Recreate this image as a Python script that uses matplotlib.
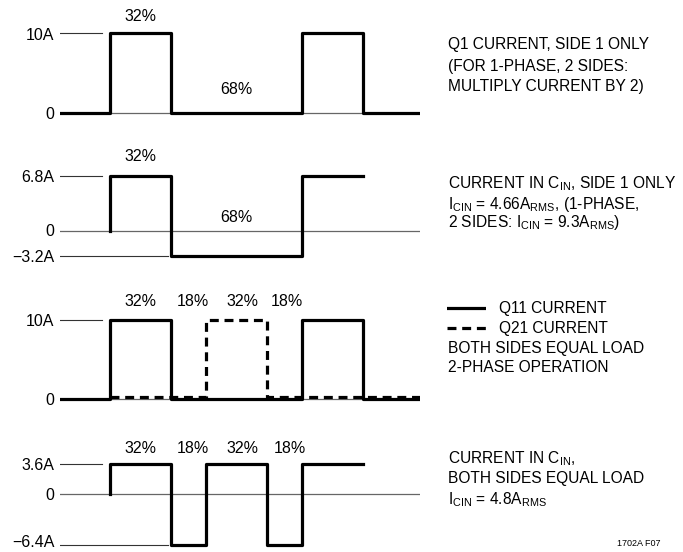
import matplotlib
matplotlib.use("Agg")
import matplotlib.pyplot as plt
from matplotlib.transforms import ScaledTranslation

plt.rcParams['font.family'] = ['Liberation Sans', 'DejaVu Sans']
plt.rcParams['mathtext.fontset'] = 'custom'
plt.rcParams['mathtext.rm'] = 'Liberation Sans'
plt.rcParams['mathtext.it'] = 'Liberation Sans'

# waveform data: time in fractions of one period, current in amps (step, 'post')
q1_t = [-0.26, 0, 0.32, 1.0, 1.32, 1.62]
q1_i = [0, 10, 0, 10, 0, 0]

cin1_t = [0, 0, 0.32, 1.0, 1.32]
cin1_i = [0, 6.8, -3.2, 6.8, 6.8]

q11_t = [-0.26, 0, 0.32, 1.0, 1.32, 1.62]
q11_i = [0, 10, 0, 10, 0, 0]
q21_t = [0, 0.5, 0.82, 1.62]
q21_i = [0.25, 10, 0.25, 0.25]

cin2_t = [0, 0, 0.32, 0.5, 0.82, 1.0, 1.32]
cin2_i = [0, 3.6, -6.4, 3.6, -6.4, 3.6, 3.6]

levels1 = [10, 0]
levels2 = [6.8, 0, -3.2]
levels3 = [10, 0]
levels4 = [3.6, 0, -6.4]
labels1 = ['10A', '0']
labels2 = ['6.8A', '0', '\u22123.2A']
labels3 = ['10A', '0']
labels4 = ['3.6A', '0', '\u22126.4A']

W, H = 683, 552
fig = plt.figure(figsize=(W / 100, H / 100), dpi=100)

LW = 2.3
FS = 11.5
FS_NOTE = 11.2
DASH = (0, (2.8, 1.8))


def panel(top, bottom, zero_px, scale, levels, labels, long_neg=False):
    ax = fig.add_axes([60 / W, 1 - bottom / H, 360 / W, (bottom - top) / H])
    ax.set_xlim(-0.26, 1.615)
    ax.set_ylim((zero_px - bottom) / scale, (zero_px - top) / scale)
    for s in ax.spines.values():
        s.set_visible(False)
    ax.set_xticks([])
    ax.set_yticks(levels, labels)
    ax.tick_params(axis='y', length=0, pad=4, labelsize=FS)
    ax.axhline(0, color='#666666', lw=0.9, zorder=1)
    for lv in levels:
        if lv == 0:
            continue
        frac = 0.30 if (lv < 0 and long_neg) else 0.117
        ax.axhline(lv, xmin=0, xmax=frac, color='#333333', lw=0.8, zorder=1)
    return ax


# panel 1
ax1 = panel(0, 130, 113.5, 8.0, levels1, labels1)
ax1.step(q1_t, q1_i, where='post', color='black', lw=LW, zorder=3)
ax1.text(0.16, 12.1, '32%', ha='center', va='center', fontsize=FS)
ax1.text(0.66, 3.0, '68%', ha='center', va='center', fontsize=FS)

# panel 2
ax2 = panel(140, 270, 230.5, 8.0, levels2, labels2, long_neg=True)
ax2.step(cin1_t, cin1_i, where='post', color='black', lw=LW, zorder=3)
ax2.text(0.16, 9.2, '32%', ha='center', va='center', fontsize=FS)
ax2.text(0.66, 1.6, '68%', ha='center', va='center', fontsize=FS)

# panel 3
ax3 = panel(280, 410, 399.0, 7.9, levels3, labels3)
ax3.step(q11_t, q11_i, where='post', color='black', lw=LW, zorder=3)
ax3.step(q21_t, q21_i, where='post', color='black', lw=LW,
         linestyle=DASH, zorder=4)
for x, s in zip([0.16, 0.43, 0.69, 0.92], ['32%', '18%', '32%', '18%']):
    ax3.text(x, 12.4, s, ha='center', va='center', fontsize=FS)

# panel 4
ax4 = panel(420, 552, 493.5, 8.07, levels4, labels4, long_neg=True)
ax4.step(cin2_t, cin2_i, where='post', color='black', lw=LW, zorder=3)
for x, s in zip([0.16, 0.43, 0.69, 0.935], ['32%', '18%', '32%', '18%']):
    ax4.text(x, 5.6, s, ha='center', va='center', fontsize=FS)
# nudge bottom label up a little so it stays inside the figure
lbl = ax4.get_yticklabels()[-1]
lbl.set_transform(lbl.get_transform() + ScaledTranslation(0, 0.04, fig.dpi_scale_trans))


# right-hand notes
def note(y_px, s, x_px=448, **kw):
    fig.text(x_px / W, 1 - y_px / H, s, ha='left', va='center', fontsize=FS_NOTE, **kw)


note(45, 'Q1 CURRENT, SIDE 1 ONLY')
note(66, '(FOR 1-PHASE, 2 SIDES:')
note(87, 'MULTIPLY CURRENT BY 2)')

note(184, r'CURRENT IN C$_{\mathrm{IN}}$, SIDE 1 ONLY')
note(204, r'I$_{\mathrm{CIN}}$ = 4.66A$_{\mathrm{RMS}}$, (1-PHASE,')
note(222, r'2 SIDES: I$_{\mathrm{CIN}}$ = 9.3A$_{\mathrm{RMS}}$)')

lax = fig.add_axes([447 / W, 1 - 340 / H, 39 / W, 40 / H])
lax.set_xlim(0, 1)
lax.set_ylim(340, 300)
lax.axis('off')
lax.plot([0, 1], [308, 308], color='black', lw=LW)
lax.plot([0, 1], [328, 328], color='black', lw=LW, linestyle=DASH)
note(308, 'Q11 CURRENT', x_px=499)
note(328, 'Q21 CURRENT', x_px=499)
note(348, 'BOTH SIDES EQUAL LOAD')
note(368, '2-PHASE OPERATION')

note(459, r'CURRENT IN C$_{\mathrm{IN}}$,')
note(479, 'BOTH SIDES EQUAL LOAD')
note(500, r'I$_{\mathrm{CIN}}$ = 4.8A$_{\mathrm{RMS}}$')

fig.text(617 / W, 1 - 543 / H, '1702A F07', ha='left', va='center', fontsize=6.5)

fig.savefig('out.png', dpi=100)
